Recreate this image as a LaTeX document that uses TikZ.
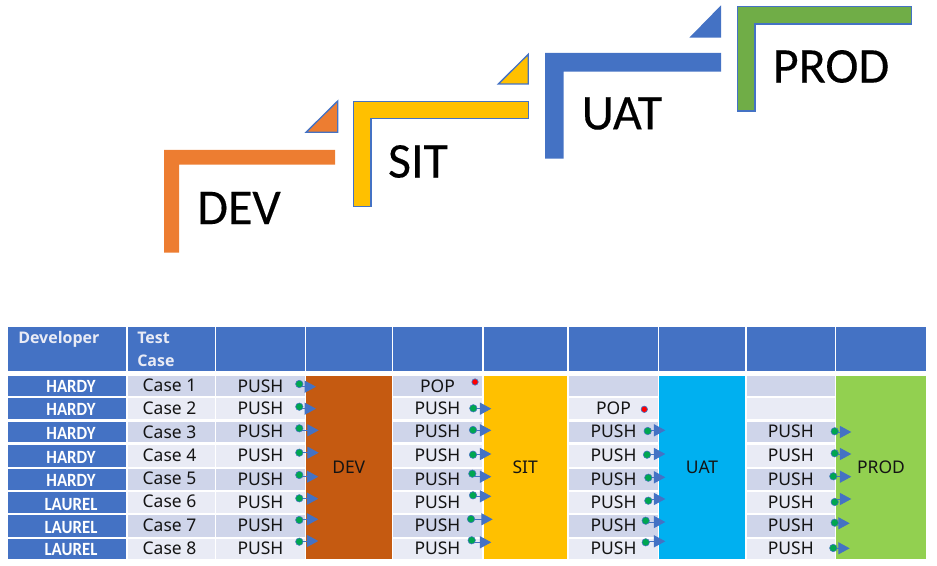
\documentclass[tikz,border=0pt]{standalone}
\usepackage{graphicx}
\usepackage{fontspec}
\setmainfont{Noto Sans}
\newfontfamily\stagefont[FakeBold=0.25]{Carlito}
\newfontfamily\headfont{Open Sans}
\usetikzlibrary{arrows.meta}
\pgfdeclarelayer{tbl}
\pgfdeclarelayer{conn}
\pgfsetlayers{tbl,conn,main}
\definecolor{hblue}{HTML}{4472C4}
\definecolor{rowd}{HTML}{CFD5EA}
\definecolor{rowl}{HTML}{E9EBF5}
\definecolor{cdev}{HTML}{C55A11}
\definecolor{csit}{HTML}{FFC000}
\definecolor{cuat}{HTML}{00B0F0}
\definecolor{cprod}{HTML}{92D050}
\definecolor{sdev}{HTML}{ED7D31}
\definecolor{sprod}{HTML}{70AD47}
\definecolor{gdot}{HTML}{00A651}
\newcommand{\tabcell}[7][]{%
  \pgfmathsetmacro{\cw}{(#5-#3)*0.75}%
  \pgfmathsetmacro{\ch}{(#6-#4)*0.75}%
  \pgfmathsetmacro{\cx}{(#3+#5)/2}%
  \pgfmathsetmacro{\cy}{(#4+#6)/2}%
  \node[cellbox,minimum width=\cw pt,minimum height=\ch pt,#1] (#2) at (\cx,\cy) {#7};%
}
\tikzset{
  cellbox/.style={inner sep=0pt,font=\fontsize{13.1}{15}\selectfont,text=black!92,text height=9pt,text depth=0pt},
  stepshape/.style={line width=1pt,line join=miter},
  stagelabel/.style={inner sep=0pt,font=\stagefont\fontsize{37.5}{40}\selectfont,text=black},
  namelabel/.style={inner sep=0pt,font=\fontspec{Carlito}\bfseries\fontsize{14}{16}\selectfont,text=white,text height=8.8pt,text depth=0pt},
  headlabel/.style={inner sep=0pt,font=\headfont\bfseries\fontsize{12}{14}\selectfont,text=rowl,text height=8.8pt,text depth=0pt,anchor=west},
  gooddot/.style={circle,fill=gdot,draw=hblue,line width=0.4pt,minimum size=5.6pt,inner sep=0pt},
  baddot/.style={circle,fill=red,draw=hblue,line width=0.5pt,minimum size=4.8pt,inner sep=0pt},
  pusharrow/.style={draw=hblue,line width=0.75pt,-{Triangle[length=8.5pt,width=9pt]}}
}
\begin{document}
\begin{tikzpicture}[x=0.75pt,y=-0.75pt]
\useasboundingbox (0,0) rectangle (937,566);
% stage steps
\fill[sdev] (164,252.7) -- (164,150) -- (335,150) -- (335,164.7) -- (179,164.7) -- (179,252.7) -- cycle;
\filldraw[fill=sdev,draw=hblue,stepshape] (306,132.3) -- (337.7,101) -- (337.7,132.3) -- cycle;
\filldraw[fill=csit,draw=hblue,stepshape] (353.7,206.3) -- (353.7,101.7) -- (528.3,101.7) -- (528.3,118.7) -- (371,118.7) -- (371,206.3) -- cycle;
\filldraw[fill=csit,draw=hblue,stepshape] (498.3,84) -- (528.3,54.3) -- (528.3,84) -- cycle;
\fill[hblue] (545,158.7) -- (545,53) -- (721,53) -- (721,71.7) -- (563.7,71.7) -- (563.7,158.7) -- cycle;
\fill[hblue] (689.3,37.7) -- (721,5.3) -- (721,37.7) -- cycle;
\filldraw[fill=sprod,draw=hblue,stepshape] (737.7,111) -- (737.7,6.7) -- (911.7,6.7) -- (911.7,24) -- (755,24) -- (755,111) -- cycle;
\node[stagelabel] (lblDEV) at (239,208) {DEV};
\node[stagelabel] (lblSIT) at (418,161.5) {SIT};
\node[stagelabel] (lblUAT) at (622,113.5) {UAT};
\node[stagelabel] (lblPROD) at (831,66.5) {PROD};
% table
\begin{pgfonlayer}{tbl}
\foreach \n/\a/\b in {h1/8/126,h2/128/214.5,h3/216/305,h4/306/391.5,h5/393/482,h6/483.5/567,h7/569/658,h8/659/745,h9/746.5/835,h10/836/926}
  {\tabcell[fill=hblue]{\n}{\a}{327}{\b}{371}{}}
\foreach \r/\ya/\yb/\f/\nm/\tc/\cg/\ci in {
  1/376/396/rowd/HARDY/POP/{}/{},
  2/397.5/419/rowl/HARDY/PUSH/POP/{},
  3/421.5/442/rowd/HARDY/PUSH/PUSH/PUSH,
  4/444.5/466.5/rowl/HARDY/PUSH/PUSH/PUSH,
  5/468.5/490/rowd/HARDY/PUSH/PUSH/PUSH,
  6/491.5/513/rowl/LAUREL/PUSH/PUSH/PUSH,
  7/515/536.5/rowd/LAUREL/PUSH/PUSH/PUSH,
  8/538.5/559/rowl/LAUREL/PUSH/PUSH/PUSH}{
  \tabcell[fill=hblue]{dv\r}{8}{\ya}{126}{\yb}{}
  \tabcell[fill=\f]{cs\r}{128}{\ya}{214.5}{\yb}{}
  \tabcell[fill=\f]{pa\r}{216}{\ya}{305}{\yb}{PUSH}
  \tabcell[fill=\f]{pb\r}{393}{\ya}{482}{\yb}{\tc}
  \tabcell[fill=\f]{pc\r}{569}{\ya}{658}{\yb}{\cg}
  \tabcell[fill=\f]{pd\r}{746.5}{\ya}{835}{\yb}{\ci}
}
\tabcell[fill=cdev]{colDEV}{306}{376}{391.5}{559}{DEV}
\tabcell[fill=csit]{colSIT}{483.5}{376}{567}{559}{SIT}
\tabcell[fill=cuat]{colUAT}{659}{376}{745}{559}{UAT}
\tabcell[fill=cprod]{colPROD}{836}{376}{926}{559}{PROD}
\end{pgfonlayer}
\node[headlabel] (hDev) at (18,338) {Developer};
\node[headlabel] (hTest) at (137,338) {Test};
\node[headlabel] (hCase) at (137,361) {Case};
\foreach \r/\t/\y in {1/HARDY/386.5,2/HARDY/410,3/HARDY/434,4/HARDY/458,5/HARDY/481,6/LAUREL/505,7/LAUREL/528,8/LAUREL/550}
  \node[namelabel] (nm\r) at (71,\y) {\scalebox{0.9}[1]{\t}};
\foreach \r/\y in {1/385.7,2/408.7,3/432,4/455,5/478,6/501.7,7/525,8/548}
  \node[cellbox] (cl\r) at (169.5,\y) {Case \r};
% dots and arrows: dot x / dot y / arrow y / tip x
\foreach \i/\dx/\dy/\ay/\tx in {
  a1/299.3/384/386.7/316,a2/299.3/406.7/408.7/316,a3/299.3/428.3/430.3/318.7,a4/299.3/452.7/452.7/318.7,
  a5/299.3/475/476.7/318.3,a6/299.3/498.3/498.7/318.3,a7/299.3/520/519.3/318.3,a8/299.3/541.7/541/318.3,
  b2/473.3/408.3/408.7/491.3,b3/473/430/430.3/491.3,b4/473/454.7/454/491.3,b5/472.3/473.7/476.7/491.3,
  b6/473/495.3/496.3/491.3,b7/471/519/519.3/492.7,b8/471.7/540.3/542.3/491.3,
  c3/647.7/431/430.3/665.3,c4/647/454.7/454/665.3,c5/648.3/477.7/477.3/665.3,c6/648.3/500.7/499/665.3,
  c7/645.7/520.7/522/665.3,c8/645.7/542.3/541.3/665.3,
  d3/834.7/431.3/432/851.3,d4/834.7/453.3/454/851.3,d5/833.3/476.3/476.7/851.3,d6/834.7/502/499/851.3,
  d7/834.7/522.7/523.3/849.7,d8/833.3/548/548.3/849.7}{
  \node[gooddot] (dot\i) at (\dx,\dy) {};
  \coordinate (tip\i) at (\tx,\ay);
  \begin{pgfonlayer}{conn}
    \draw[pusharrow] (dot\i.center |- tip\i) -- (tip\i);
  \end{pgfonlayer}
}
\node[baddot] (popA) at (475,382) {};
\node[baddot] (popB) at (644.3,409.3) {};
\end{tikzpicture}
\end{document}
